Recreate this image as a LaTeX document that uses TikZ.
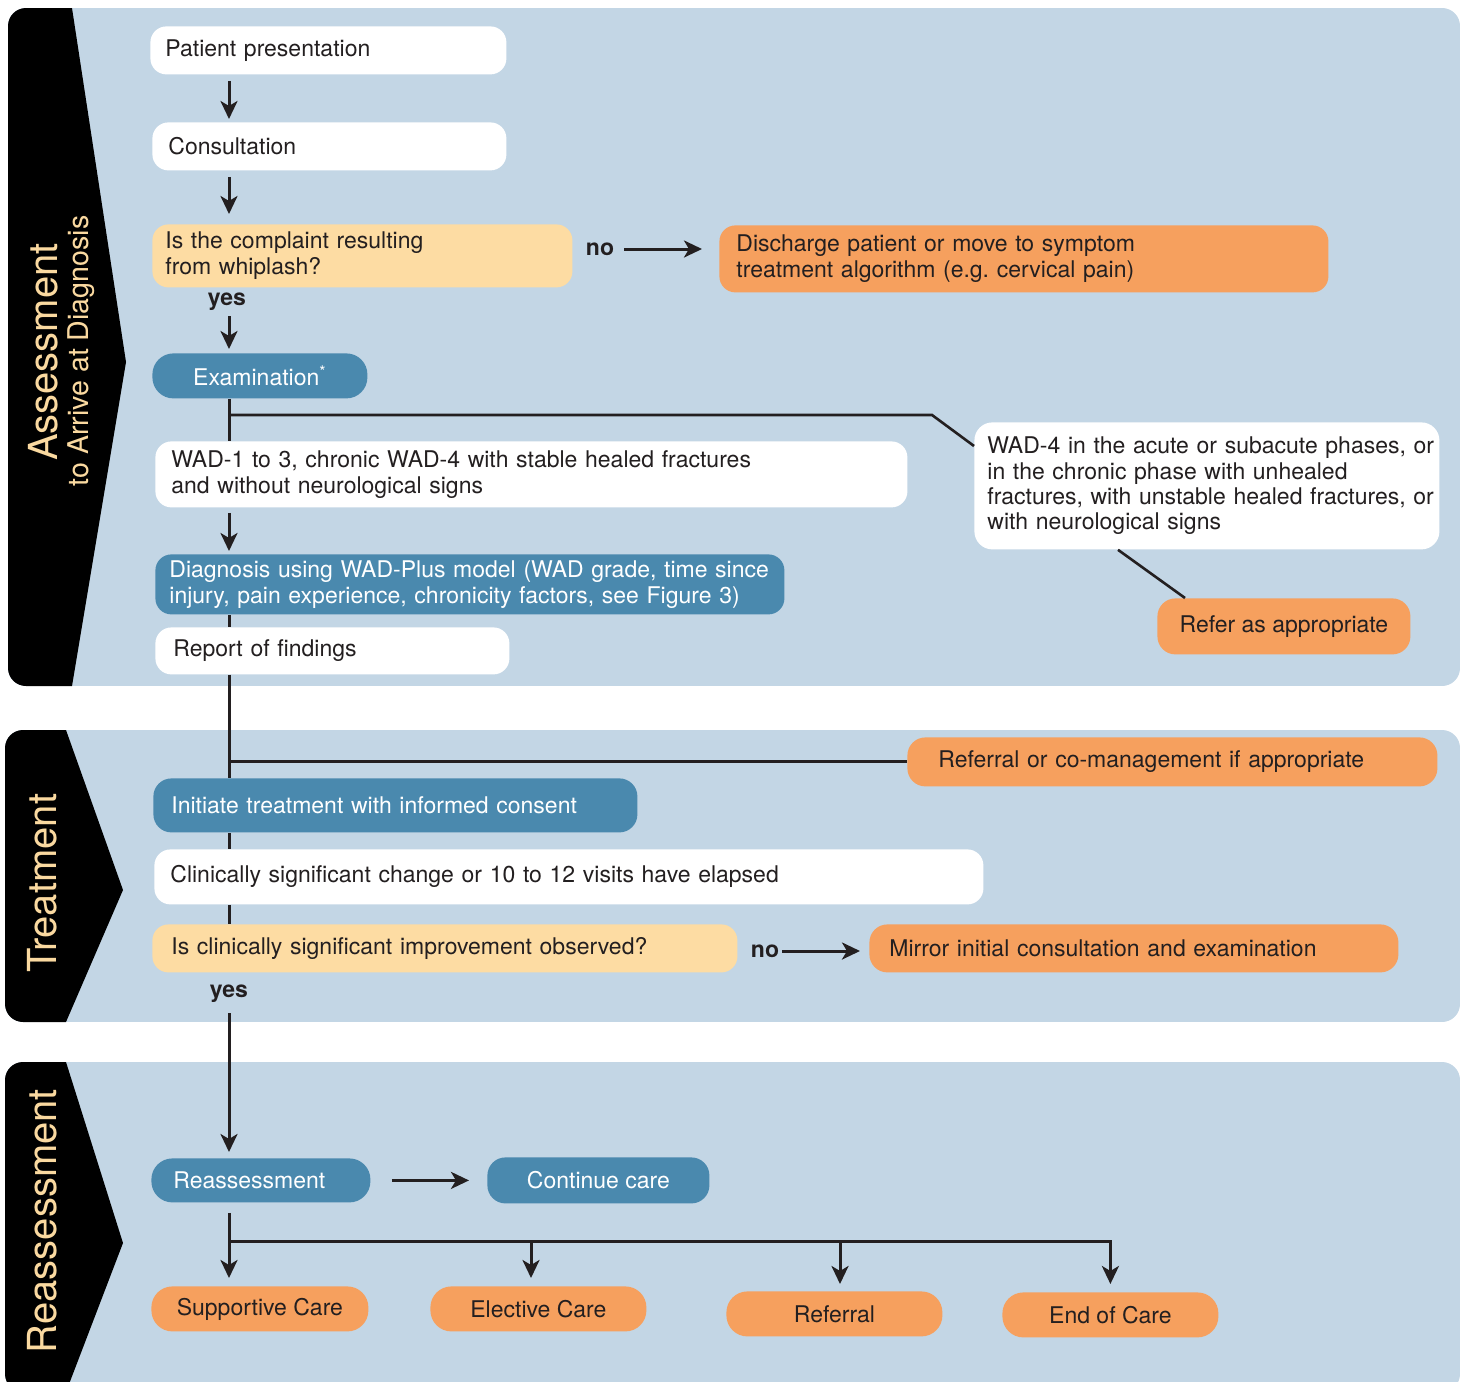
\documentclass[tikz,border=0pt]{standalone}
\usepackage{fontspec}
\setmainfont{TeX Gyre Heros}
\usetikzlibrary{arrows.meta,calc}
\definecolor{panel}{HTML}{C3D6E5}
\definecolor{bluebox}{HTML}{4A89AE}
\definecolor{orangebox}{HTML}{F6A05E}
\definecolor{peach}{HTML}{FDDCA3}
\definecolor{ink}{HTML}{231F20}
\definecolor{lab}{HTML}{FAD9A0}
\frenchspacing
\begin{document}
\begin{tikzpicture}[x=0.5pt,y=-0.5pt,
  box/.style={anchor=north west, rounded corners=8pt, inner xsep=7.5pt, inner ysep=0pt, align=left, font=\fontsize{11.5}{13}\selectfont, text=ink},
  wbox/.style={box, fill=white},
  pbox/.style={box, fill=peach},
  obox/.style={box, fill=orangebox},
  bbox/.style={box, fill=bluebox, text=white},
  pill/.style={rounded corners=10.5pt},
  ln/.style={draw=ink, line width=1.5pt},
  arr/.style={ln, -{Stealth[length=9pt,width=8.5pt,inset=2.5pt]}},
  yn/.style={font=\fontsize{11.5}{13}\selectfont\bfseries, text=ink, inner sep=0pt},
  band/.style={rotate=90, text=lab, inner sep=0pt},
]
\useasboundingbox (0,0) rectangle (1466,1381);

% ---- panels ----
\begin{scope}
  \clip[rounded corners=9pt] (8,8) rectangle (1460,686);
  \fill[panel] (8,8) rectangle (1460,686);
  \fill[black] (0,8) -- (72,8) -- (126,362) -- (72,686) -- (0,686) -- cycle;
\end{scope}
\begin{scope}
  \clip[rounded corners=9pt] (5,730) rectangle (1460,1022);
  \fill[panel] (5,730) rectangle (1460,1022);
  \fill[black] (0,730) -- (66,730) -- (123,890) -- (66,1022) -- (0,1022) -- cycle;
\end{scope}
\begin{scope}
  \clip[rounded corners=9pt] (5,1062) rectangle (1460,1392);
  \fill[panel] (5,1062) rectangle (1460,1392);
  \fill[black] (0,1062) -- (66,1062) -- (123,1243) -- (66,1392) -- (0,1392) -- cycle;
\end{scope}

% ---- band labels ----
\node[band, font=\fontsize{20}{20}\selectfont] (tA) at (43,352) {Assessment};
\node[band, font=\fontsize{14.3}{15}\selectfont] (tB) at (81,351) {to Arrive at Diagnosis};
\node[band, font=\fontsize{20}{20}\selectfont] (tT) at (42,883) {Treatment};
\node[band, font=\fontsize{20}{20}\selectfont] (tR) at (42,1221) {Reassessment};

% ---- nodes ----
\node[wbox, minimum width=178pt, minimum height=24pt, text width=163pt] (pp) at (150,26) {Patient presentation};
\node[wbox, minimum width=177pt, minimum height=24pt, inner xsep=8pt, text width=161pt] (cons) at (152,122) {Consultation};
\node[pbox, minimum width=210pt, minimum height=31.5pt, inner xsep=6.5pt, text width=197pt] (q1) at (152,224) {Is the complaint resulting\\from whiplash?};
\node[obox, minimum width=304.5pt, minimum height=33.5pt, inner xsep=8.5pt, text width=287.5pt] (dis) at (719,225) {Discharge patient or move to symptom\\treatment algorithm (e.g. cervical pain)};
\node[bbox, pill, minimum width=107.5pt, minimum height=22.5pt] (exam) at (152,353) {Examination\textsuperscript{*}};
\node[wbox, minimum width=376pt, minimum height=33pt, inner xsep=8pt, text width=360pt] (wad13) at (155,441) {WAD-1 to 3, chronic WAD-4 with stable healed fractures\\and without neurological signs};
\node[wbox, rounded corners=9pt, minimum width=232.5pt, minimum height=63.5pt, inner xsep=6.5pt, text width=219.5pt, font=\fontsize{11.5}{12.6}\selectfont] (wad4) at (974,422) {\mbox{WAD-4 in the acute or subacute phases, or}\\\mbox{in the chronic phase with unhealed}\\\mbox{fractures, with unstable healed fractures, or}\\\mbox{with neurological signs}};
\node[obox, rounded corners=9pt, minimum width=126.5pt, minimum height=28pt] (refer) at (1157,598) {Refer as appropriate};
\node[bbox, minimum width=314.5pt, minimum height=30pt, inner xsep=7pt, text width=300.5pt] (diag) at (155,554) {\mbox{Diagnosis using WAD-Plus model (WAD grade, time since}\\\mbox{injury, pain experience, chronicity factors, see Figure 3)}};
\node[wbox, minimum width=177pt, minimum height=23.5pt, inner xsep=9pt, text width=159pt] (rof) at (155,627) {Report of findings};

\node[obox, rounded corners=9pt, minimum width=265pt, minimum height=24.5pt, inner xsep=15.5pt, text width=234pt] (refco) at (907,737) {Referral or co-management if appropriate};
\node[bbox, rounded corners=9pt, minimum width=242pt, minimum height=27pt, inner xsep=9pt, text width=224pt] (init) at (153,778) {Initiate treatment with informed consent};
\node[wbox, minimum width=414.5pt, minimum height=27.5pt, inner xsep=8pt, text width=398.5pt] (clin) at (154,849) {Clinically significant change or 10 to 12 visits have elapsed};
\node[pbox, minimum width=292.5pt, minimum height=24pt, inner xsep=9.5pt, text width=273.5pt] (q2) at (152,924) {Is clinically significant improvement observed?};
\node[obox, rounded corners=9pt, minimum width=264.5pt, minimum height=24pt, inner xsep=10pt, text width=244.5pt] (mirror) at (869,924) {Mirror initial consultation and examination};

\node[bbox, pill, minimum width=109.5pt, minimum height=22pt, inner xsep=11pt, text width=87.5pt] (reass) at (151,1158) {Reassessment};
\node[bbox, rounded corners=9pt, minimum width=111pt, minimum height=23pt] (cont) at (487,1157) {Continue care};
\node[obox, pill, minimum width=108.5pt, minimum height=22.5pt] (sup) at (151,1286) {Supportive Care};
\node[obox, pill, minimum width=108pt, minimum height=22.5pt] (elec) at (430,1286) {Elective Care};
\node[obox, pill, minimum width=108pt, minimum height=22.5pt] (refl) at (726,1291) {Referral};
\node[obox, pill, minimum width=108pt, minimum height=22.5pt] (eoc) at (1002,1292) {End of Care};

% ---- labels ----
\node[yn] (yes1) at (227,302) {yes};
\node[yn] (no1) at (600,249) {no};
\node[yn] (yes2) at (229,994) {yes};
\node[yn] (no2) at (765,951) {no};

% ---- connectors ----
\coordinate (trunk) at (229,0);
\draw[arr, shorten <=3pt, shorten >=1.5pt] (pp.south -| trunk) -- (cons.north -| trunk);
\draw[arr, shorten <=3pt, shorten >=5pt] (cons.south -| trunk) -- (q1.north -| trunk);
\draw[arr, shorten <=2.5pt, shorten >=2pt] (yes1.south -| trunk) -- (exam.north -| trunk);
\draw[arr, shorten <=5pt, shorten >=8.5pt] (no1.east) -- (dis.west |- no1.east);

\draw[ln] (exam.south -| trunk) -- (wad13.north -| trunk);
\coordinate (j1) at (229,415);
\coordinate (b1) at (932,415);
\draw[ln, line width=1.3pt] (j1) -- (b1) -- ($(wad4.north west)+(0,24)$);
\draw[ln, line width=1.3pt] ($(wad4.south west)+(144,0)$) -- ($(refer.north west)+(28,0)$);

\draw[arr, shorten <=2.5pt, shorten >=1.5pt] (wad13.south -| trunk) -- (diag.north -| trunk);
\draw[ln] (diag.south -| trunk) -- (rof.north -| trunk);
\draw[ln] (rof.south -| trunk) -- (init.north -| trunk);
\draw[ln] (rof.south -| trunk) |- (refco.west);
\draw[ln] (init.south -| trunk) -- (clin.north -| trunk);
\draw[ln] (clin.south -| trunk) -- (q2.north -| trunk);

\draw[arr, shorten <=5pt, shorten >=3pt] (yes2.south) -- (reass.north -| trunk);
\draw[arr, shorten <=1.5pt, shorten >=4.5pt] (no2.east) -- (mirror.west |- no2.east);

\draw[arr, shorten <=10.5pt, shorten >=9pt] (reass.east) -- (cont.west |- reass.east);
\draw[arr, shorten <=5pt, shorten >=4pt] (reass.south -| trunk) -- (sup.north -| trunk);
\coordinate (hb) at (229,1241);
\coordinate (be) at (531,1241);
\coordinate (br) at (840,1241);
\draw[arr, shorten >=4pt] (hb) -| (eoc.north);
\draw[arr, shorten >=4pt] (be) -- (be |- elec.north);
\draw[arr, shorten >=3.5pt] (br) -- (br |- refl.north);
\end{tikzpicture}
\end{document}
